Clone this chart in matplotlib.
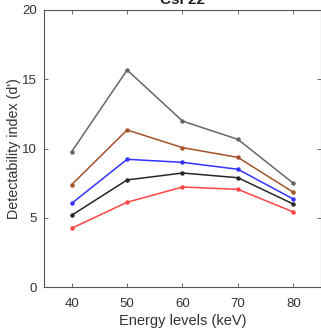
import matplotlib
matplotlib.use("Agg")
import matplotlib.pyplot as plt

plt.rcParams['font.family'] = ['Liberation Sans', 'DejaVu Sans']

energies = [40, 50, 60, 70, 80]
gray_vals = [9.77, 15.67, 11.98, 10.66, 7.49]
brown_vals = [7.39, 11.34, 10.06, 9.36, 6.84]
blue_vals = [6.04, 9.22, 9.00, 8.50, 6.35]
black_vals = [5.18, 7.73, 8.23, 7.89, 5.99]
red_vals = [4.24, 6.12, 7.22, 7.05, 5.42]

series = [
    (gray_vals, '#666666'),
    (brown_vals, '#A5522A'),
    (blue_vals, '#3333FF'),
    (black_vals, '#262626'),
    (red_vals, '#FF4444'),
]

fig = plt.figure(figsize=(3.21, 3.28), dpi=100)
ax = fig.add_axes([44 / 321, 1 - 287 / 328, (321 - 44) / 321, (287 - 10) / 328])

for vals, col in series:
    ax.plot(energies, vals, color=col, lw=1.1, marker='o', ms=3.2,
            markeredgewidth=0, clip_on=False)

ax.set_xlim(35, 85)
ax.set_ylim(0, 20)
ax.set_xticks(energies)
ax.set_yticks([0, 5, 10, 15, 20])

axis_col = '#555555'
for s in ax.spines.values():
    s.set_color(axis_col)
    s.set_linewidth(0.8)
ax.tick_params(direction='in', length=3, width=0.6, color=axis_col,
               labelcolor='#333333', labelsize=9.5, top=True, right=True)
ax.tick_params(axis='x', pad=8)
ax.tick_params(axis='y', pad=5)

ax.set_xlabel('Energy levels (keV)', fontsize=10.5, color='#333333', labelpad=3)
ax.set_ylabel("Detectability index (d')", fontsize=10.3, color='#333333', labelpad=1)

fig.text((44 + 321) / 2 / 321, 1 - 4 / 328, 'CsI 22', ha='center', va='baseline',
         fontsize=11, weight='bold', color='#222222')

fig.savefig('out.png', dpi=100)
